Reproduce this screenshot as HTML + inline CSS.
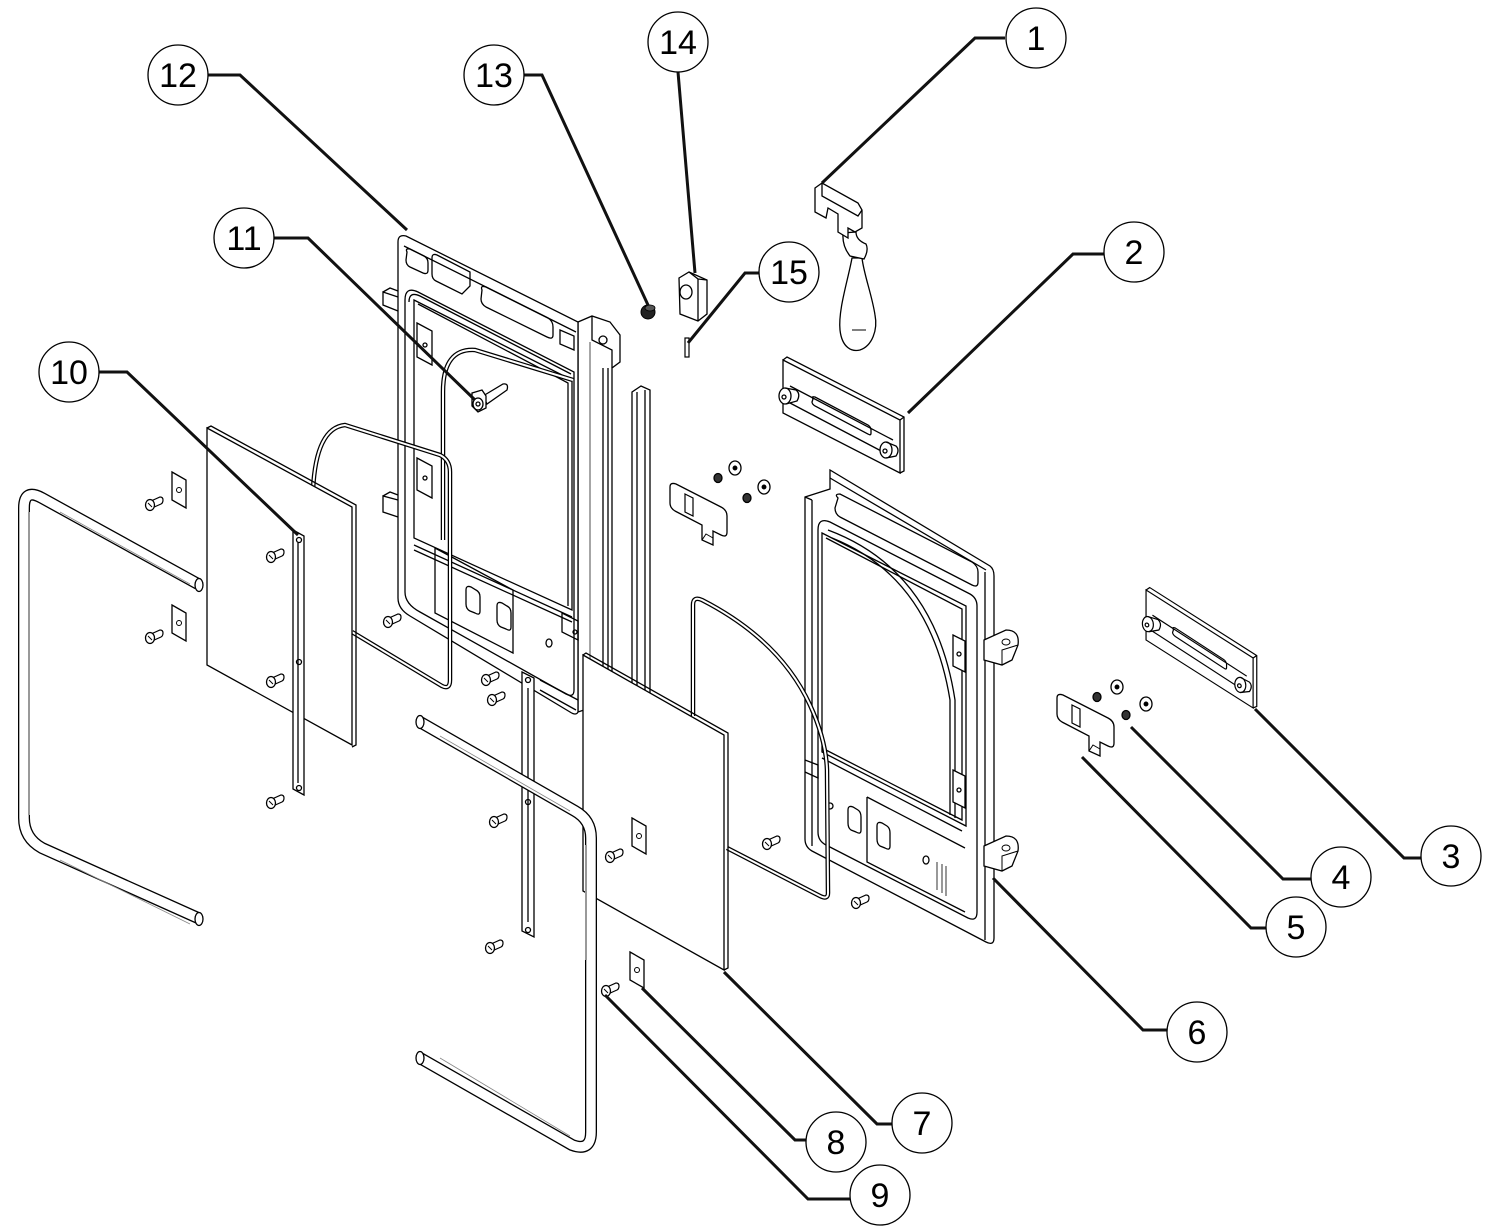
<!DOCTYPE html>
<html><head><meta charset="utf-8"><style>
html,body{margin:0;padding:0;background:#fff;}
svg{display:block;}
text{font-family:"Liberation Sans",Arial,sans-serif;font-size:34px;fill:#000;text-anchor:middle;}
</style></head><body>
<svg width="1500" height="1229" viewBox="0 0 1500 1229" xmlns="http://www.w3.org/2000/svg">
<defs>
<g id="scr"><path d="M1,-4 L10,-8 Q13,-8 13,-5 Q13,-2 11,-1 L2,3" fill="#fff" stroke="#000" stroke-width="1.2"/><ellipse cx="0" cy="0" rx="4.5" ry="5.5" fill="#fff" stroke="#000" stroke-width="1.3"/><line x1="-2" y1="-2" x2="2" y2="2" stroke="#000" stroke-width="1"/></g>
<g id="clip"><path d="M0,0 L14,8 L14,36 L0,28 Z" fill="#fff" stroke="#000" stroke-width="1.3"/><circle cx="7" cy="18" r="2.5" fill="none" stroke="#000" stroke-width="1"/></g>
<g id="latch"><path d="M670,487 Q670,482 676,484 L721,507 Q727,510 727,516 L727,532 Q727,538 721,535 L713,531 L713,545 L702,540 L702,525 L675,511 Q670,508 670,503 Z" fill="#fff" stroke="#000" stroke-width="1.3"/><path d="M685,494 L693,498 L693,516 L685,512 Z" fill="none" stroke="#000" stroke-width="1.2"/><path d="M702,540 L706,534 L713,538" fill="none" stroke="#000" stroke-width="1"/></g>
<g id="plate2" stroke="#000" stroke-width="1.3" fill="none"><path d="M783,360 L900,420 L900,473 L783,413 Z" fill="#fff"/><path d="M783,360 L787,357 L904,417 L904,471 L900,473"/><path d="M900,420 L904,417"/><path d="M790,386 L893,440"/><path d="M790,403 L885,453"/><path d="M813,399 Q811,396 815,397 L868,425 Q871,427 871,430 L871,433 Q871,436 868,434 L815,406 Q812,404 812,402 Z"/><ellipse cx="785" cy="396" rx="6" ry="8" fill="#fff"/><circle cx="784" cy="397" r="2"/><path d="M785,388 L796,390 Q801,394 797,401 L786,404"/><ellipse cx="886" cy="450" rx="6" ry="8" fill="#fff"/><circle cx="885" cy="451" r="2"/><path d="M886,442 L896,446 Q900,450 896,456 L886,458"/></g>
<g id="tab"><path d="M984,640 L1006,630 Q1020,630 1018,645 L1012,660 L1002,665 L984,660 Z" fill="#fff" stroke="#000" stroke-width="1.3"/><ellipse cx="1006" cy="642" rx="4" ry="3" fill="none" stroke="#000" stroke-width="1"/><path d="M1002,665 L1002,650 L1018,645" fill="none" stroke="#000" stroke-width="1"/></g>
</defs>
<rect width="1500" height="1229" fill="#fff"/>

<!-- ============ FRAME 12 ============ -->
<g stroke="#000" stroke-width="1.3" fill="none">
<path d="M398,297 L383,292 L383,305 L398,311" fill="#fff"/>
<path d="M383,292 L390,288 L398,291"/>
<path d="M398,500 L383,496 L383,512 L398,517" fill="#fff"/>
<path d="M383,496 L390,492 L398,495"/>
<path d="M578,322 L592,316 L610,322 L620,335 L620,362 L612,368 L612,696 L596,706 L578,712 Z" fill="#fff"/>
<line x1="590" y1="342" x2="590" y2="706" stroke="#777"/>
<line x1="603" y1="368" x2="603" y2="700"/>
<line x1="608" y1="368" x2="608" y2="698"/>
<path d="M592,316 L592,340 L612,350 L612,368"/>
<circle cx="603" cy="340" r="4"/>
<path d="M398,242 Q398,234 406,236 L578,322 L578,712 Q576,716 570,712 L410,616 Q398,609 398,598 Z" fill="#fff"/>
<path d="M404,246 L576,332"/>
<path d="M407,252 Q405,248 410,249 L424,256 Q428,258 428,263 L428,270 Q428,275 423,273 L410,267 Q406,265 406,260 Z"/>
<path d="M432,258 Q432,253 437,255 L470,272 L470,286 L462,294 L436,281 Q432,279 432,274 Z"/>
<path d="M482,290 Q480,285 486,287 L548,318 Q553,321 553,327 L553,335 Q553,340 547,337 L486,307 Q481,304 481,299 Z"/>
<path d="M560,330 L574,336 L574,350 L560,344 Z"/>
<path d="M405,300 Q405,286 418,292 L574,372 L574,690 Q574,698 566,694 L420,612 Q405,604 405,592 Z"/>
<path d="M409,302 Q409,291 420,296 L571,374"/>
<path d="M414,300 L572,380 L572,610 L414,538 Z"/>
<path d="M418,304 L568,383 L568,606"/>
<path d="M414,545 L572,617"/>
<path d="M414,550 L572,622"/>
<path d="M417,323 L432,331 L432,365 L417,357 Z" fill="#fff"/>
<circle cx="425" cy="345" r="2"/>
<path d="M417,458 L432,466 L432,498 L417,490 Z" fill="#fff"/>
<circle cx="425" cy="478" r="2"/>
<path d="M435,548 L513,590 L513,653 L435,613 Z"/>
<path d="M466,590 Q466,585 471,587 L476,590 Q480,592 480,597 L480,611 Q480,616 475,613 L470,611 Q466,609 466,604 Z"/>
<path d="M497,606 Q497,601 502,603 L507,606 Q511,608 511,613 L511,627 Q511,632 506,629 L501,627 Q497,625 497,620 Z"/>
<ellipse cx="549" cy="643" rx="3" ry="4"/>
<path d="M562,613 L578,621 L578,640 L562,632 Z"/>
<circle cx="575" cy="632" r="2"/>
<path d="M540,680 L578,700 M540,690 L576,710"/>
<path d="M632,392 L641,386 L650,390 L650,700 L632,690 Z" fill="#fff"/>
<line x1="637" y1="392" x2="637" y2="690"/>
<line x1="645" y1="390" x2="645" y2="696"/>
</g>

<!-- wires -->
<g fill="none">
<path d="M443,540 L443,392 Q443,348 475,350 L573,380" stroke="#000" stroke-width="4.5"/>
<path d="M443,540 L443,392 Q443,348 475,350 L573,380" stroke="#fff" stroke-width="2"/>
<path d="M313,490 Q316,428 345,425 L440,455 Q450,460 450,472 L450,680 Q450,690 442,686 L352,632" stroke="#000" stroke-width="4.5"/>
<path d="M313,490 Q316,428 345,425 L440,455 Q450,460 450,472 L450,680 Q450,690 442,686 L352,632" stroke="#fff" stroke-width="2"/>
</g>

<!-- part 11 pin -->
<g stroke="#000" stroke-width="1.3" fill="#fff">
<path d="M483,396 L503,384 Q509,383 507,390 L487,404 Z"/>
<path d="M472,393 L482,390 L486,396 L486,408 L478,412 L472,406 Z"/>
<ellipse cx="478" cy="404" rx="5" ry="6"/>
<circle cx="478" cy="404" r="2" fill="none"/>
</g>

<!-- ============ PANEL 10 ============ -->
<g stroke="#000" stroke-width="1.3">
<path d="M207,428 L352,507 L352,745 L207,665 Z" fill="#fff"/>
<path d="M207,428 L211,426 L356,505 L356,745 L352,747" fill="none"/>
<path d="M293,530 L304,536 L304,795 L293,789 Z" fill="#fff"/>
<line x1="298" y1="543" x2="298" y2="783" fill="none"/>
<circle cx="299" cy="540" r="2.5" fill="none"/>
<circle cx="299" cy="662" r="2.5" fill="none"/>
<circle cx="299" cy="788" r="2.5" fill="none"/>
</g>
<use href="#clip" x="172" y="472"/>
<use href="#clip" x="172" y="605"/>
<use href="#scr" x="150" y="505"/>
<use href="#scr" x="150" y="638"/>
<use href="#scr" x="271" y="557"/>
<use href="#scr" x="271" y="682"/>
<use href="#scr" x="271" y="803"/>

<!-- left tube -->
<g fill="none">
<path d="M198,584 L42,498 Q24,488 24,508 L24,818 Q24,838 42,848 L198,918" stroke="#000" stroke-width="12"/>
<path d="M198,584 L42,498 Q24,488 24,508 L24,818 Q24,838 42,848 L198,918" stroke="#fff" stroke-width="9.4"/>
<line x1="29" y1="512" x2="29" y2="815" stroke="#999" stroke-width="2"/>
<path d="M60,512 L190,584 M60,860 L190,924" stroke="#888" stroke-width="0.8"/>
<ellipse cx="199" cy="585" rx="4" ry="6.5" stroke="#000" stroke-width="1.3" fill="#fff"/>
<ellipse cx="199" cy="919" rx="4" ry="6.5" stroke="#000" stroke-width="1.3" fill="#fff"/>
</g>

<!-- middle strip & screws -->
<g stroke="#000" stroke-width="1.3">
<path d="M522,672 L534,678 L534,937 L522,931 Z" fill="#fff"/>
<line x1="528" y1="688" x2="528" y2="922"/>
<circle cx="528" cy="680" r="2.5" fill="none"/>
<circle cx="528" cy="802" r="2.5" fill="none"/>
<circle cx="528" cy="930" r="2.5" fill="none"/>
</g>
<use href="#scr" x="388" y="622"/>
<use href="#scr" x="486" y="680"/>
<use href="#scr" x="492" y="700"/>
<use href="#scr" x="494" y="822"/>
<use href="#scr" x="490" y="948"/>

<!-- ============ FRAME 6 ============ -->
<g stroke="#000" stroke-width="1.3" fill="none">
<path d="M805,497 L830,489 L830,470 L990,566 Q994,569 994,576 L994,938 Q994,946 986,942 L812,851 Q805,847 805,839 Z" fill="#fff"/>
<line x1="985" y1="572" x2="985" y2="940"/>
<path d="M830,478 L986,570"/>
<path d="M812,500 L812,846"/>
<path d="M805,497 L812,500"/>
<path d="M838,498 Q834,494 840,494 L972,562 Q978,566 978,572 L978,582 Q978,588 972,585 L840,517 Q835,514 835,508 Z"/>
<path d="M818,530 Q818,517 830,522 L970,594 Q977,598 977,606 L977,912 Q977,922 968,918 L826,845 Q818,841 818,832 Z"/>
<path d="M822,533 L966,606 L966,826 L822,752 Z"/>
<path d="M826,538 L962,609 L962,820 L826,750"/>
<path d="M828,530 Q935,570 955,700 L955,818"/>
<path d="M832,538 Q930,577 950,700 L950,815"/>
<path d="M822,758 L962,831"/>
<path d="M953,635 L965,641 L965,672 L953,666 Z" fill="#fff"/>
<circle cx="959" cy="654" r="2"/>
<path d="M953,770 L965,776 L965,808 L953,802 Z" fill="#fff"/>
<circle cx="959" cy="790" r="2"/>
<path d="M867,797 L965,848 M867,797 L867,862 L965,912"/>
<path d="M848,810 Q848,805 853,807 L858,810 Q861,812 861,817 L861,830 Q861,835 856,832 L851,830 Q848,828 848,823 Z"/>
<path d="M877,826 Q877,821 882,823 L887,826 Q890,828 890,833 L890,846 Q890,851 885,848 L880,846 Q877,844 877,839 Z"/>
<circle cx="830" cy="806" r="3"/>
<ellipse cx="926" cy="860" rx="3" ry="4"/>
<path d="M937,862 L937,890 M942,864 L942,893 M946,866 L946,896" stroke-width="0.8"/>
<path d="M805,760 L818,765 L818,778 L805,772"/>
</g>
<use href="#tab"/>
<use href="#tab" y="206"/>
<use href="#scr" x="767" y="844"/>
<use href="#scr" x="856" y="903"/>

<!-- gasket of frame 6 -->
<g fill="none">
<path d="M693,716 L693,605 Q693,596 702,600 Q780,640 810,705 Q826,740 827,770 L828,893 Q828,900 820,896 L727,848" stroke="#000" stroke-width="4.5"/>
<path d="M693,716 L693,605 Q693,596 702,600 Q780,640 810,705 Q826,740 827,770 L828,893 Q828,900 820,896 L727,848" stroke="#fff" stroke-width="2"/>
</g>

<!-- ============ PANEL 7 ============ -->
<g stroke="#000" stroke-width="1.3">
<path d="M583,655 L724,735 L724,970 L583,891 Z" fill="#fff"/>
<path d="M583,655 L586,653 L728,733 L728,968 L724,970" fill="none"/>
</g>
<use href="#clip" x="632" y="818"/>
<use href="#clip" x="630" y="952"/>
<use href="#scr" x="610" y="857"/>
<use href="#scr" x="606" y="991"/>

<!-- middle tube -->
<g fill="none">
<path d="M420,722 L575,811 Q591,820 591,838 L591,1132 Q591,1152 572,1145 L420,1058" stroke="#000" stroke-width="12"/>
<path d="M420,722 L575,811 Q591,820 591,838 L591,1132 Q591,1152 572,1145 L420,1058" stroke="#fff" stroke-width="9.4"/>
<line x1="586" y1="845" x2="586" y2="960" stroke="#999" stroke-width="2"/>
<path d="M440,736 L570,811 M440,1058 L570,1136" stroke="#888" stroke-width="0.8"/>
<ellipse cx="420" cy="722" rx="4" ry="6.5" stroke="#000" stroke-width="1.3" fill="#fff"/>
<ellipse cx="420" cy="1058" rx="4" ry="6.5" stroke="#000" stroke-width="1.3" fill="#fff"/>
</g>

<!-- ============ SMALL PARTS TOP ============ -->
<ellipse cx="648" cy="312" rx="7" ry="7" fill="#222" stroke="#000"/>
<ellipse cx="650" cy="308" rx="5" ry="3" fill="#555" stroke="#000" stroke-width="0.8"/>
<g stroke="#000" stroke-width="1.3" fill="#fff">
<path d="M679,278 L689,272 L707,280 L707,314 L698,321 L680,314 Z"/>
<path d="M689,272 L698,279 L698,321 M698,279 L707,280" fill="none"/>
<ellipse cx="686" cy="292" rx="6" ry="7"/>
</g>
<rect x="685" y="338" width="4" height="19" fill="#fff" stroke="#000" stroke-width="1.2"/>

<!-- handle 1 -->
<g stroke="#000" stroke-width="1.3" fill="#fff">
<path d="M852,258 C848,280 838,310 840,330 C842,348 852,352 860,350 C872,346 878,330 875,315 C872,295 864,275 862,258 Z"/>
<path d="M843,233 Q842,246 850,256 L864,259 Q869,250 866,244 Q856,240 856,232 Z"/>
<path d="M815,188 L822,183 L858,203 L862,210 L862,228 L855,232 L848,228 L848,238 L838,232 L838,214 L828,208 L826,218 L815,212 Z"/>
<path d="M822,183 L822,196 L858,216 L862,210" fill="none"/>
<path d="M852,330 L866,330" fill="none" stroke-width="1"/>
</g>

<!-- plates 2 & 3 -->
<use href="#plate2"/>
<use href="#plate2" transform="matrix(0.915,0.0977,0,0.943,429.6,174)"/>

<!-- latch plates 5 -->
<use href="#latch"/>
<use href="#latch" x="387" y="211"/>

<!-- washers & nuts -->
<g stroke="#000" stroke-width="1.3" fill="#fff">
<ellipse cx="735" cy="468" rx="6" ry="7"/><circle cx="735" cy="468" r="1.8" fill="#000"/>
<ellipse cx="764" cy="487" rx="6" ry="7"/><circle cx="764" cy="487" r="1.8" fill="#000"/>
<ellipse cx="718" cy="478" rx="4" ry="4.5" fill="#333"/>
<ellipse cx="747" cy="498" rx="4" ry="4.5" fill="#333"/>
<ellipse cx="1117" cy="687" rx="6" ry="7"/><circle cx="1117" cy="687" r="1.8" fill="#000"/>
<ellipse cx="1146" cy="704" rx="6" ry="7"/><circle cx="1146" cy="704" r="1.8" fill="#000"/>
<ellipse cx="1097" cy="697" rx="4" ry="4.5" fill="#333"/>
<ellipse cx="1126" cy="715" rx="4" ry="4.5" fill="#333"/>
</g>

<!-- ============ LEADERS ============ -->
<g stroke="#111" stroke-width="3" fill="none" stroke-linejoin="miter">
<path d="M1005,38 L975,38 L822,183"/>
<path d="M1104,254 L1073,254 L908,413"/>
<path d="M1421,858 L1404,858 L1255,709"/>
<path d="M1311,879 L1283,879 L1131,727"/>
<path d="M1266,928 L1251,928 L1082,757"/>
<path d="M1167,1030 L1143,1030 L993,878"/>
<path d="M892,1124 L877,1124 L724,972"/>
<path d="M806,1140 L795,1140 L642,988"/>
<path d="M850,1199 L808,1199 L605,995"/>
<path d="M99,372 L127,372 L298,535"/>
<path d="M274,238 L308,238 L475,400"/>
<path d="M208,75 L240,75 L407,230"/>
<path d="M524,75 L542,75 L648,305"/>
<path d="M678,72 L695,273"/>
<path d="M759,273 L745,273 L688,343"/>
</g>

<!-- ============ CALLOUTS ============ -->
<g stroke="#000" stroke-width="1.3" fill="#fff">
<circle cx="1036" cy="38" r="30"/>
<circle cx="1134" cy="252" r="30"/>
<circle cx="1451" cy="856" r="30"/>
<circle cx="1341" cy="877" r="30"/>
<circle cx="1296" cy="927" r="30"/>
<circle cx="1197" cy="1032" r="30"/>
<circle cx="922" cy="1123" r="30"/>
<circle cx="836" cy="1142" r="30"/>
<circle cx="880" cy="1195" r="30"/>
<circle cx="69" cy="372" r="30"/>
<circle cx="244" cy="238" r="30"/>
<circle cx="178" cy="75" r="30"/>
<circle cx="494" cy="75" r="30"/>
<circle cx="678" cy="42" r="30"/>
<circle cx="789" cy="272" r="30"/>
</g>
<text x="1036" y="50">1</text>
<text x="1134" y="264">2</text>
<text x="1451" y="868">3</text>
<text x="1341" y="889">4</text>
<text x="1296" y="939">5</text>
<text x="1197" y="1044">6</text>
<text x="922" y="1135">7</text>
<text x="836" y="1154">8</text>
<text x="880" y="1207">9</text>
<text x="69" y="384">10</text>
<text x="244" y="250">11</text>
<text x="178" y="87">12</text>
<text x="494" y="87">13</text>
<text x="678" y="54">14</text>
<text x="789" y="284">15</text>
</svg>
</body></html>
